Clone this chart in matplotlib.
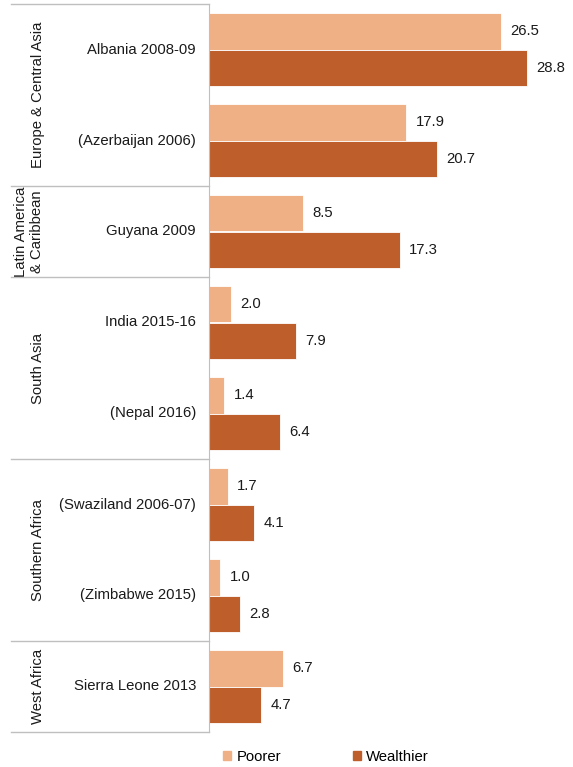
import matplotlib
matplotlib.use("Agg")
import matplotlib.pyplot as plt
from matplotlib.patches import Patch
from matplotlib.transforms import blended_transform_factory

plt.rcParams['font.family'] = ['Liberation Sans', 'DejaVu Sans']
plt.rcParams['font.size'] = 10.7

# data
countries = ["Albania 2008-09", "(Azerbaijan 2006)", "Guyana 2009", "India 2015-16",
             "(Nepal 2016)", "(Swaziland 2006-07)", "(Zimbabwe 2015)", "Sierra Leone 2013"]
poorer = [26.5, 17.9, 8.5, 2.0, 1.4, 1.7, 1.0, 6.7]
wealthier = [28.8, 20.7, 17.3, 7.9, 6.4, 4.1, 2.8, 4.7]
regions = ["Europe & Central Asia", "Latin America\n& Caribbean", "South Asia",
           "Southern Africa", "West Africa"]
region_sizes = [2, 1, 2, 2, 1]

c_poor = "#F0B085"
c_wealth = "#BE5E2B"
grid_c = "#BFBFBF"

W, H = 573, 767
fig = plt.figure(figsize=(W / 100, H / 100), dpi=100)
ax = fig.add_axes([209 / W, 1 - 732 / H, 1 - 209 / W, (732 - 4) / H])

n = len(countries)
pos = list(range(n))
h = 0.4
yp = [p + 0.3 for p in pos]
yw = [p + 0.7 for p in pos]
ax.barh(yp, poorer, height=h, color=c_poor, edgecolor="white", linewidth=0.6)
ax.barh(yw, wealthier, height=h, color=c_wealth, edgecolor="white", linewidth=0.6)

for y, v in zip(yp, poorer):
    ax.text(v + 0.85, y, f"{v:.1f}", va="center", ha="left", color="#1a1a1a")
for y, v in zip(yw, wealthier):
    ax.text(v + 0.85, y, f"{v:.1f}", va="center", ha="left", color="#1a1a1a")

ax.set_xlim(0, 33)
ax.set_ylim(n, 0)
ax.set_xticks([])
ax.set_yticks([])
for s in ["top", "right", "bottom"]:
    ax.spines[s].set_visible(False)
ax.spines["left"].set_color(grid_c)

# left table: country names, region names, separators
tr = blended_transform_factory(fig.transFigure, ax.transData)
for p, name in zip(pos, countries):
    ax.text(196 / W, p + 0.5, name, transform=tr, ha="right", va="center", color="#1a1a1a")

start = 0
bounds = [0]
for r, size in zip(regions, region_sizes):
    xr = 29 / W if "\n" in r else 38 / W
    ax.text(xr, start + size / 2, r, transform=tr, rotation=90, ha="center", va="center",
            color="#1a1a1a", linespacing=1.15)
    start += size
    bounds.append(start)
for b in bounds:
    ax.plot([11 / W, 209 / W], [b, b], transform=tr, color=grid_c, lw=1, clip_on=False)

handles = [Patch(color=c_poor, label="Poorer"), Patch(color=c_wealth, label="Wealthier")]
fig.legend(handles=handles, loc="center", bbox_to_anchor=(326 / W, 1 - 757 / H), ncol=2,
           frameon=False, handlelength=0.55, handleheight=0.55, handletextpad=0.35,
           columnspacing=4.8)

fig.savefig("out.png", dpi=100)
